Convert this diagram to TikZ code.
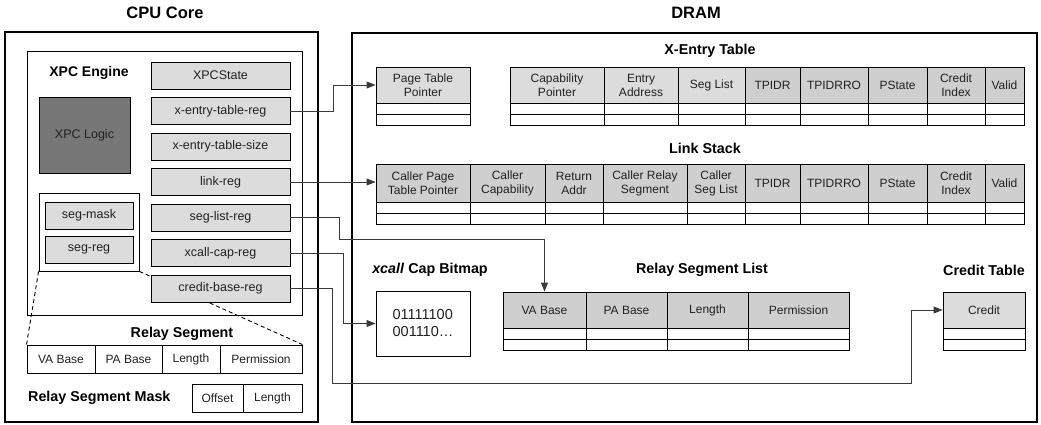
\documentclass[tikz,border=0pt]{standalone}
\usepackage{fontspec}
\setmainfont{Liberation Sans}
\usetikzlibrary{arrows.meta}
\definecolor{lg}{HTML}{DCDCDC}
\definecolor{mg}{HTML}{CFCFCF}
\definecolor{dg}{HTML}{777777}
\definecolor{ln}{HTML}{3A3A3A}
\definecolor{tx}{HTML}{222222}
\tikzset{
  cellbox/.style={draw=black, line width=0.9pt, inner sep=0pt, align=center, text=tx,
    font=\fontsize{12}{14}\selectfont},
  regbox/.style={cellbox, fill=lg, minimum width=139pt, minimum height=27pt,
    font=\fontsize{12.5}{14}\selectfont},
  sectitle/.style={font=\fontsize{14.3}{16}\selectfont\bfseries, inner sep=0pt},
  maintitle/.style={font=\fontsize{16.5}{18}\selectfont\bfseries, inner sep=0pt},
  conn/.style={draw=ln, line width=0.9pt},
  arr/.style={conn, -{Triangle[length=9pt,width=7pt]}},
  bigframe/.style={draw=black, line width=2pt},
  rowline/.style={draw=black, line width=0.9pt},
}
% name, x1, x2, y1, y2, text, fill
\newcommand{\tcell}[7]{\node[cellbox, fill=#7, minimum width={(#3)-(#2)}, minimum height={(#5)-(#4)}] (#1) at ({((#2)+(#3))/2},{((#4)+(#5))/2}) {#6};}
% header cell with two empty rows below
\newcommand{\hcol}[7]{\tcell{#1}{#2}{#3}{#4}{#5}{#6}{#7}
  \draw[rowline] (#2,#5) rectangle (#3,{#5+11.3}) (#2,{#5+11.3}) rectangle (#3,{#5+22.6});}
\begin{document}
\begin{tikzpicture}[x=1pt,y=-1pt]
\useasboundingbox (0,0) rectangle (1041,425);

% ---------------- CPU core ----------------
\node[maintitle] (cputitle) at (165,13) {CPU Core};
\draw[bigframe] (5,32) rectangle (318,422);
\draw[draw=black, line width=1pt] (27,52) rectangle (302,315);
\node[sectitle, font=\fontsize{14}{16}\selectfont\bfseries] (xpceng) at (89,73) {XPC Engine};
\node[cellbox, fill=dg, minimum width=91pt, minimum height=76pt, font=\fontsize{12.5}{14}\selectfont] (logic) at (84.5,135) {XPC Logic};

% relay segment table
\node[sectitle] (rstitle) at (182,334) {Relay Segment};
\tcell{rs1}{27}{95}{345}{373}{VA Base}{white}
\tcell{rs2}{95}{162}{345}{373}{PA Base}{white}
\tcell{rs3}{162}{220}{345}{373}{Length}{white}
\tcell{rs4}{220}{302}{345}{373}{Permission}{white}
\node[sectitle, anchor=west] (rsmtitle) at (28,398) {Relay Segment Mask};
\tcell{mk1}{192}{243}{384}{412}{Offset}{white}
\tcell{mk2}{243}{302}{384}{412}{Length}{white}

% segment registers group
\node[cellbox, fill=white, minimum width=100pt, minimum height=78pt] (segbox) at (89,232) {};
\node[regbox, minimum width=88pt] (segmask) at (89,215.5) {seg-mask};
\node[regbox, minimum width=88pt] (segreg) at (89,249.5) {seg-reg};
\draw[conn, draw=black, dash pattern=on 4pt off 3pt] (segbox.south west) -- (rs1.north west);
\draw[conn, draw=black, dash pattern=on 4pt off 3pt] (segbox.south east) -- (rs4.north east);

% registers
\node[regbox] (xs) at (220.5,75.5) {XPCState};
\node[regbox] (xreg) at (220.5,111) {x-entry-table-reg};
\node[regbox] (xsize) at (220.5,146.5) {x-entry-table-size};
\node[regbox] (lreg) at (220.5,182) {link-reg};
\node[regbox] (slreg) at (220.5,217.5) {seg-list-reg};
\node[regbox] (xcreg) at (220.5,253) {xcall-cap-reg};
\node[regbox] (cbreg) at (220.5,288.5) {credit-base-reg};

% ---------------- DRAM ----------------
\node[maintitle] (dramtitle) at (696,13) {DRAM};
\draw[bigframe] (352,33) rectangle (1037,422);

\node[sectitle] (xetitle) at (710,51) {X-Entry Table};
\hcol{ptp}{376}{470}{67}{103}{Page Table\\Pointer}{lg}
\hcol{xe1}{510}{604}{67}{103}{Capability\\Pointer}{lg}
\hcol{xe2}{604}{678}{67}{103}{Entry\\Address}{lg}
\hcol{xe3}{678}{745}{67}{103}{Seg List}{lg}
\hcol{xe4}{745}{800}{67}{103}{TPIDR}{mg}
\hcol{xe5}{800}{868}{67}{103}{TPIDRRO}{mg}
\hcol{xe6}{868}{927}{67}{103}{PState}{mg}
\hcol{xe7}{927}{985}{67}{103}{Credit\\Index}{mg}
\hcol{xe8}{985}{1024}{67}{103}{Valid}{mg}

\node[sectitle] (lstitle) at (705,148) {Link Stack};
\hcol{ls1}{376}{470}{164}{202}{Caller Page\\Table Pointer}{mg}
\hcol{ls2}{470}{545}{164}{202}{Caller\\Capability}{mg}
\hcol{ls3}{545}{603}{164}{202}{Return\\Addr}{mg}
\hcol{ls4}{603}{687}{164}{202}{Caller Relay\\Segment}{mg}
\hcol{ls5}{687}{745}{164}{202}{Caller\\Seg List}{mg}
\hcol{ls6}{745}{800}{164}{202}{TPIDR}{mg}
\hcol{ls7}{800}{868}{164}{202}{TPIDRRO}{mg}
\hcol{ls8}{868}{927}{164}{202}{PState}{mg}
\hcol{ls9}{927}{985}{164}{202}{Credit\\Index}{mg}
\hcol{ls10}{985}{1024}{164}{202}{Valid}{mg}

\node[sectitle] (bmtitle) at (430,270) {\textit{xcall} Cap Bitmap};
\node[cellbox, fill=white, minimum width=94pt, minimum height=65pt, align=left,
  font=\fontsize{14.5}{17}\selectfont] (bm) at (423,323.5) {01111100\\001110…};

\node[sectitle] (rsltitle) at (702,270) {Relay Segment List};
\hcol{rsl1}{503}{586}{292}{328}{VA Base}{mg}
\hcol{rsl2}{586}{667}{292}{328}{PA Base}{mg}
\hcol{rsl3}{667}{748}{292}{328}{Length}{mg}
\hcol{rsl4}{748}{849}{292}{328}{Permission}{mg}

\node[sectitle] (crtitle) at (984,270) {Credit Table};
\hcol{cr}{943}{1025}{292}{328}{Credit}{lg}

% ---------------- connectors ----------------
\draw[arr] (xreg.east) -- ++(43,0) |- (ptp.west);
\draw[arr] (lreg.east) -- (lreg.east -| ls1.west);
\draw[arr] (slreg.east) -- ++(49,0) -- ++(0,21.5) -| (rsl1.north);
\draw[arr] (xcreg.east) -- ++(53,0) |- (bm.west);
\coordinate (cturn) at (911,383.5);
\draw[arr] (cbreg.east) -- ++(42,0) |- (cturn) |- (cr.west);
\end{tikzpicture}
\end{document}
